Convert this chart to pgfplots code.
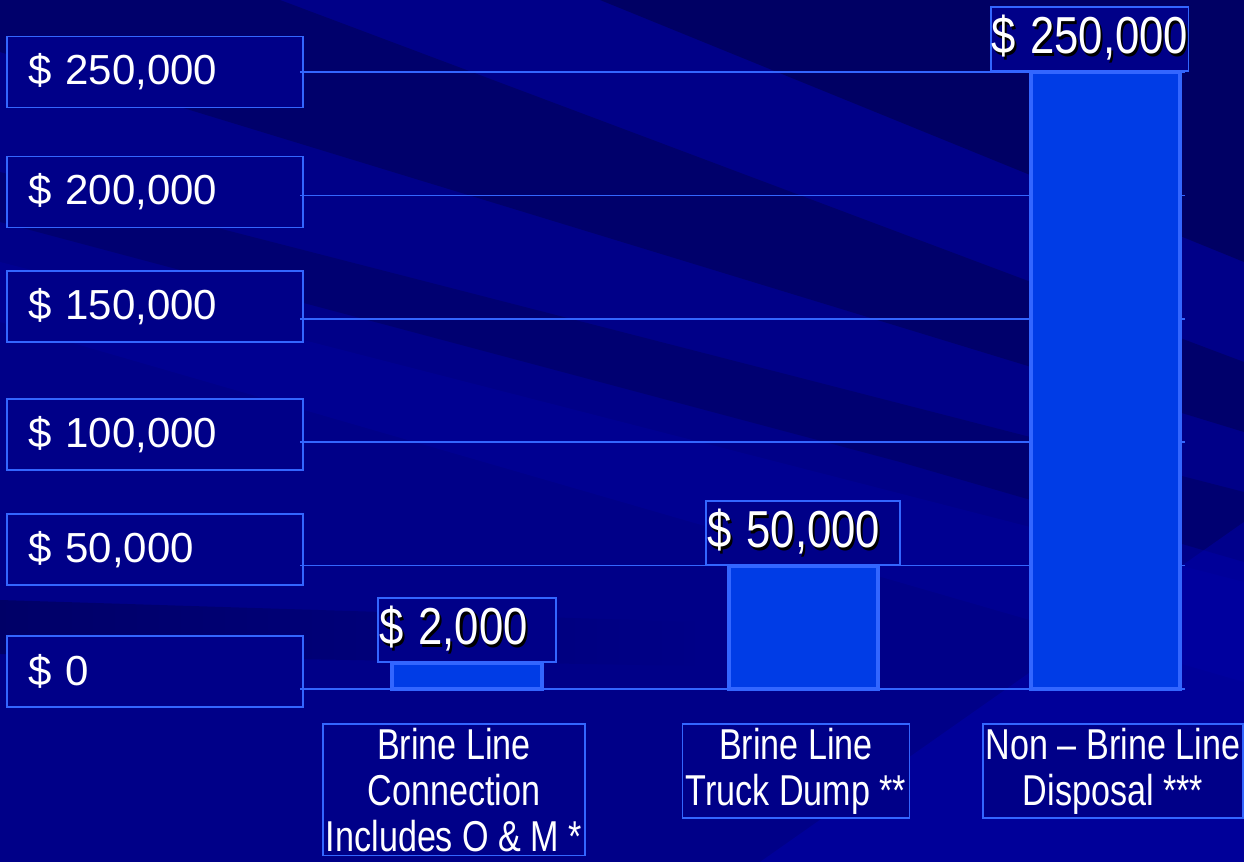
\documentclass[border=0pt]{standalone}
\usepackage{pgfplots}
\pgfplotsset{compat=1.18}
\usepackage{fontspec}
\setmainfont{Liberation Sans}
\usepackage{graphicx}

\definecolor{bg}{RGB}{0,0,136}
\definecolor{bgdark}{RGB}{0,0,72}
\definecolor{bglight}{RGB}{0,0,175}
\definecolor{boxc}{RGB}{51,102,255}
\definecolor{barc}{RGB}{0,60,230}

\newcommand{\shadowtext}[1]{\makebox[0pt][l]{\hspace{1.3pt}\raisebox{-1.3pt}{\color{black}#1}}\mbox{#1}}

\begin{document}
\begin{tikzpicture}[x=1pt,y=1pt]
\useasboundingbox (0,0) rectangle (622,431);
\fill[bg] (0,0) rectangle (622,431);
% background streaks (decoration)
\fill[bgdark,opacity=0.55] (300,431) -- (622,431) -- (622,300) -- cycle;
\fill[bgdark,opacity=0.45] (0,431) -- (140,431) -- (622,250) -- (622,215) -- (0,405) -- cycle;
\fill[bgdark,opacity=0.35] (0,345) -- (0,320) -- (450,200) -- (622,150) -- (622,185) -- cycle;
\shade[left color=bgdark, right color=bg, opacity=0.5] (0,131) -- (0,104) -- (350,98) -- (350,120) -- cycle;
\fill[bglight,opacity=0.25] (0,300) -- (0,270) -- (622,90) -- (622,140) -- cycle;
\fill[bglight,opacity=0.45] (380,0) -- (622,0) -- (622,170) -- cycle;
\coordinate (O) at (150,86.5);

\begin{axis}[
  at={(O)}, anchor=south west,
  scale only axis, width=442.5pt, height=308.5pt,
  xmin=300, xmax=1185, ymin=0, ymax=250000,
  clip=false,
  axis line style={draw=none},
  major tick length=0pt,
  % label boxes (positions of the boxes as drawn on the slide)
  ytick={7090,56520,103120,154980,201380,250000}, scaled y ticks=false,
  yticklabels={{\$~0},{\$~50,000},{\$~100,000},{\$~150,000},{\$~200,000},{\$~250,000}},
  yticklabel style={anchor=east, xshift=2pt, draw=boxc, line width=0.8pt, fill=bg, text=white,
    font=\fontsize{21}{24}\selectfont, text width=127pt, align=left, inner xsep=10.5pt, inner ysep=0pt,
    minimum height=35.5pt},
  % grid lines at the values
  extra y ticks={0,50000,100000,150000,200000,250000},
  extra y tick labels={},
  extra y tick style={grid=major, yticklabel style={draw=none, fill=none, minimum height=0pt, text width=0pt}},
  grid style={line width=0.8pt, color=boxc},
  xtick={454,796,1113},
  xticklabels={{Brine Line\\Connection\\Includes O \& M *},{Brine Line\\Truck Dump **},{Non -- Brine Line\\Disposal ***}},
  xticklabel style={anchor=north, yshift=-17pt, align=center, draw=boxc, line width=0.8pt, fill=bg, text=white,
    font=\fontsize{21.6}{23}\selectfont, xscale=0.79, transform shape, inner xsep=2pt, inner ysep=2pt},
  ybar, bar width=74.5pt,
  every node near coord/.append style={anchor=south, draw=boxc, fill=bg, text=white, line width=0.8pt,
    font=\fontsize{26}{28}\selectfont, align=left, inner ysep=0pt, minimum height=32pt},
]
\addplot[bar shift=0pt, fill=barc, draw=boxc, line width=2pt,
  nodes near coords={\shadowtext{\$~2,000}},
  every node near coord/.append style={xscale=0.84, transform shape, inner xsep=1pt, text width=104pt}]
  coordinates {(467,10500)};
\addplot[bar shift=0pt, fill=barc, draw=boxc, line width=2pt,
  nodes near coords={\shadowtext{\$~50,000}},
  every node near coord/.append style={xscale=0.84, transform shape, inner xsep=1pt, text width=113.5pt}]
  coordinates {(803,50000)};
\addplot[bar shift=0pt, fill=barc, draw=boxc, line width=2pt,
  nodes near coords={\shadowtext{\$~250,000}},
  every node near coord/.append style={xshift=-7.7pt, xscale=0.84, transform shape, inner xsep=0.3pt, text width=117pt}]
  coordinates {(1105,250000)};
\end{axis}
\end{tikzpicture}
\end{document}
